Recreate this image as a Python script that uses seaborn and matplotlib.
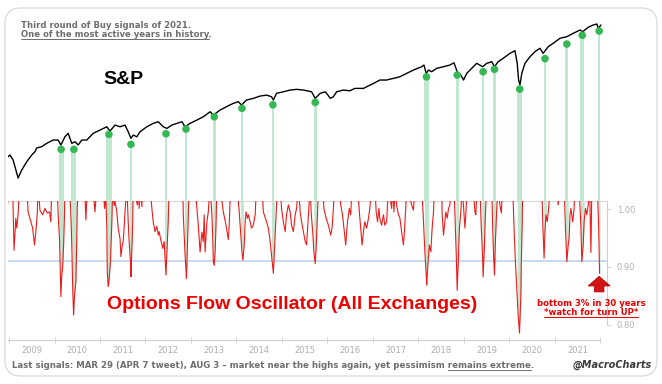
import matplotlib
matplotlib.use('Agg')
import numpy as np
import matplotlib.pyplot as plt
import seaborn as sns
from matplotlib.lines import Line2D
from matplotlib.patches import FancyBboxPatch
from matplotlib.transforms import IdentityTransform

# S&P 500 level (approx.), time in fractional years
spx_t = [2008.98, 2009.02, 2009.09, 2009.20, 2009.28, 2009.39, 2009.50, 2009.57, 2009.61, 2009.72,
         2009.83, 2009.97, 2010.08, 2010.14, 2010.23, 2010.30, 2010.38, 2010.45, 2010.52, 2010.60,
         2010.71, 2010.85, 2011.00, 2011.15, 2011.22, 2011.33, 2011.44, 2011.55, 2011.62, 2011.68,
         2011.73, 2011.81, 2011.88, 2012.03, 2012.17, 2012.28, 2012.39, 2012.47, 2012.58, 2012.69,
         2012.80, 2012.87, 2012.98, 2013.13, 2013.27, 2013.42, 2013.49, 2013.64, 2013.78, 2013.93,
         2014.04, 2014.11, 2014.22, 2014.37, 2014.52, 2014.66, 2014.77, 2014.81, 2014.88, 2015.03,
         2015.18, 2015.32, 2015.47, 2015.65, 2015.73, 2015.84, 2015.95, 2016.01, 2016.06, 2016.13,
         2016.20, 2016.35, 2016.49, 2016.60, 2016.79, 2016.86, 2017.01, 2017.15, 2017.30, 2017.45,
         2017.59, 2017.74, 2017.89, 2018.07, 2018.12, 2018.17, 2018.22, 2018.29, 2018.40, 2018.55,
         2018.69, 2018.78, 2018.85, 2018.93, 2018.99, 2019.06, 2019.17, 2019.28, 2019.41, 2019.50,
         2019.61, 2019.67, 2019.75, 2019.86, 2020.01, 2020.12, 2020.17, 2020.20, 2020.23, 2020.27,
         2020.34, 2020.45, 2020.56, 2020.67, 2020.74, 2020.85, 2020.96, 2021.11, 2021.26, 2021.40,
         2021.55, 2021.61, 2021.73, 2021.84, 2021.92, 2021.95, 2022.01]
spx_v = [877, 895, 843, 677, 746, 825, 895, 932, 975, 991,
         1032, 1074, 1074, 1011, 1118, 1165, 1032, 1052, 1011, 1074,
         1074, 1165, 1212, 1262, 1197, 1288, 1262, 1288, 1188, 1096,
         1141, 1118, 1188, 1262, 1315, 1341, 1262, 1237, 1288, 1315,
         1341, 1262, 1315, 1369, 1425, 1514, 1455, 1546, 1610, 1677,
         1711, 1643, 1746, 1782, 1832, 1854, 1817, 1746, 1894, 1930,
         1971, 1988, 1971, 1930, 1782, 1894, 1930, 1854, 1782, 1817,
         1930, 1971, 1954, 2011, 2011, 2051, 2136, 2226, 2226, 2272,
         2316, 2414, 2514, 2617, 2671, 2414, 2514, 2462, 2566, 2617,
         2671, 2746, 2462, 2365, 2226, 2414, 2566, 2727, 2617, 2727,
         2781, 2617, 2781, 2897, 3079, 3178, 2727, 2226, 2096, 2414,
         2727, 2953, 3144, 3274, 3079, 3337, 3478, 3697, 3770, 3926,
         4089, 4005, 4225, 4345, 4398, 4172, 4345]

# Options Flow Oscillator (values above ~1.014 run off the top of the panel)
osc_t = [2008.96, 2009.00, 2009.08, 2009.11, 2009.15, 2009.17, 2009.20, 2009.23, 2009.39, 2009.42,
         2009.48, 2009.52, 2009.56, 2009.59, 2009.62, 2009.64, 2009.68, 2009.74, 2009.79, 2009.84,
         2009.89, 2009.92, 2009.94, 2010.06, 2010.08, 2010.11, 2010.13, 2010.14, 2010.16, 2010.18,
         2010.20, 2010.22, 2010.23, 2010.33, 2010.36, 2010.38, 2010.40, 2010.42, 2010.44, 2010.47,
         2010.49, 2010.50, 2010.52, 2010.66, 2010.69, 2010.72, 2010.84, 2010.89, 2010.93, 2011.07,
         2011.10, 2011.13, 2011.15, 2011.16, 2011.18, 2011.20, 2011.23, 2011.26, 2011.28, 2011.31,
         2011.33, 2011.37, 2011.40, 2011.44, 2011.46, 2011.49, 2011.51, 2011.53, 2011.55, 2011.59,
         2011.62, 2011.64, 2011.67, 2011.68, 2011.70, 2011.72, 2011.73, 2011.82, 2011.84, 2011.86,
         2011.89, 2011.92, 2011.94, 2012.10, 2012.14, 2012.17, 2012.21, 2012.25, 2012.28, 2012.30,
         2012.33, 2012.38, 2012.41, 2012.43, 2012.45, 2012.47, 2012.50, 2012.52, 2012.82, 2012.83,
         2012.85, 2012.87, 2012.90, 2012.92, 2012.94, 2012.96, 2013.09, 2013.13, 2013.16, 2013.20,
         2013.24, 2013.27, 2013.29, 2013.31, 2013.35, 2013.38, 2013.42, 2013.46, 2013.48, 2013.49,
         2013.51, 2013.53, 2013.55, 2013.57, 2013.64, 2013.71, 2013.77, 2013.82, 2013.84, 2013.87,
         2014.01, 2014.06, 2014.09, 2014.12, 2014.14, 2014.17, 2014.19, 2014.21, 2014.24, 2014.26,
         2014.30, 2014.33, 2014.37, 2014.41, 2014.44, 2014.56, 2014.59, 2014.66, 2014.70, 2014.74,
         2014.77, 2014.81, 2014.84, 2014.87, 2014.90, 2014.96, 2014.99, 2015.03, 2015.07, 2015.10,
         2015.14, 2015.18, 2015.21, 2015.25, 2015.29, 2015.32, 2015.36, 2015.40, 2015.43, 2015.47,
         2015.51, 2015.54, 2015.58, 2015.62, 2015.64, 2015.68, 2015.70, 2015.73, 2015.75, 2015.78,
         2015.80, 2015.90, 2015.92, 2015.97, 2016.02, 2016.07, 2016.10, 2016.13, 2016.15, 2016.26,
         2016.29, 2016.33, 2016.37, 2016.40, 2016.44, 2016.48, 2016.51, 2016.54, 2016.66, 2016.70,
         2016.73, 2016.76, 2016.79, 2016.82, 2016.86, 2016.90, 2016.93, 2016.97, 2017.04, 2017.07,
         2017.10, 2017.13, 2017.15, 2017.19, 2017.23, 2017.26, 2017.30, 2017.34, 2017.41, 2017.44,
         2017.46, 2017.49, 2017.52, 2017.56, 2017.59, 2017.63, 2017.67, 2017.69, 2017.72, 2017.74,
         2017.85, 2017.89, 2017.92, 2018.07, 2018.11, 2018.14, 2018.17, 2018.18, 2018.21, 2018.24,
         2018.27, 2018.30, 2018.33, 2018.35, 2018.51, 2018.52, 2018.55, 2018.58, 2018.60, 2018.63,
         2018.66, 2018.69, 2018.72, 2018.78, 2018.81, 2018.83, 2018.85, 2018.88, 2018.90, 2018.93,
         2018.96, 2019.00, 2019.02, 2019.04, 2019.07, 2019.20, 2019.24, 2019.26, 2019.29, 2019.35,
         2019.38, 2019.41, 2019.42, 2019.45, 2019.47, 2019.50, 2019.61, 2019.63, 2019.65, 2019.67,
         2019.69, 2019.72, 2019.75, 2019.79, 2019.82, 2019.85, 2020.07, 2020.10, 2020.13, 2020.16,
         2020.19, 2020.22, 2020.25, 2020.26, 2020.28, 2020.29, 2020.71, 2020.73, 2020.76, 2020.78,
         2020.80, 2020.83, 2020.86, 2020.89, 2021.05, 2021.07, 2021.10, 2021.20, 2021.23, 2021.26,
         2021.29, 2021.31, 2021.33, 2021.35, 2021.39, 2021.42, 2021.44, 2021.53, 2021.57, 2021.59,
         2021.62, 2021.64, 2021.67, 2021.70, 2021.73, 2021.76, 2021.78, 2021.79, 2021.81, 2021.93,
         2021.96, 2021.98]
osc_v = [1.000, 1.04, 1.04, 0.929, 0.984, 0.967, 0.990, 1.04, 1.04, 0.995,
         0.978, 0.967, 0.938, 0.961, 0.990, 1.04, 0.998, 0.990, 1.001, 0.993,
         0.995, 0.978, 1.04, 1.04, 0.990, 0.949, 0.886, 0.849, 0.886, 0.901,
         0.938, 0.990, 1.04, 1.04, 0.990, 0.938, 0.863, 0.817, 0.852, 0.875,
         0.949, 1.001, 1.04, 1.04, 0.981, 1.04, 1.04, 0.995, 1.04, 1.04,
         1.001, 1.02, 0.967, 0.892, 0.866, 0.878, 0.909, 0.978, 1.04, 1.006,
         1.013, 0.995, 0.967, 0.949, 0.918, 0.938, 0.944, 0.967, 0.995, 1.04,
         0.978, 0.944, 0.909, 0.883, 0.932, 0.978, 1.04, 1.007, 1.04, 1.001,
         1.04, 1.004, 1.04, 1.04, 1.001, 0.978, 0.961, 0.970, 0.955, 0.961,
         0.949, 0.932, 0.944, 0.915, 0.886, 0.926, 0.978, 1.04, 1.04, 0.990,
         0.955, 0.921, 0.880, 0.932, 0.990, 1.04, 1.04, 1.001, 0.972, 0.926,
         0.960, 0.944, 0.990, 0.926, 0.978, 0.995, 1.04, 0.990, 0.944, 0.909,
         0.903, 0.926, 0.972, 1.04, 1.04, 0.995, 0.972, 0.947, 0.972, 1.04,
         1.04, 0.995, 0.961, 0.926, 0.912, 0.938, 0.978, 0.995, 0.984, 0.990,
         0.978, 0.967, 0.972, 0.990, 1.04, 1.04, 0.995, 0.978, 0.967, 0.944,
         0.921, 0.889, 0.938, 0.990, 1.04, 1.04, 1.001, 0.978, 0.961, 0.990,
         1.007, 0.995, 0.972, 0.961, 0.990, 1.001, 1.04, 0.995, 0.978, 0.961,
         0.944, 0.938, 0.990, 1.04, 0.995, 0.955, 0.926, 0.906, 0.932, 0.990,
         1.04, 1.04, 1.001, 0.984, 0.972, 0.955, 0.967, 1.001, 1.04, 1.04,
         1.007, 0.990, 0.961, 0.938, 0.978, 1.001, 0.990, 1.04, 1.04, 0.995,
         0.967, 0.938, 0.961, 0.978, 0.967, 0.984, 1.001, 1.04, 1.04, 0.995,
         0.978, 1.001, 0.984, 0.972, 0.990, 0.972, 0.978, 1.04, 1.001, 1.04,
         0.995, 1.04, 1.007, 0.990, 0.985, 0.960, 0.938, 0.961, 1.001, 1.04,
         1.007, 0.998, 1.04, 1.04, 0.978, 0.926, 0.886, 0.869, 0.909, 0.938,
         0.926, 0.967, 0.995, 1.04, 1.04, 0.990, 0.955, 0.978, 0.995, 0.984,
         1.001, 1.007, 1.04, 1.04, 0.967, 0.921, 0.860, 0.921, 0.967, 0.995,
         1.04, 0.990, 0.967, 0.990, 1.04, 1.04, 0.995, 0.990, 1.04, 1.04,
         0.967, 0.915, 0.883, 0.938, 0.990, 1.04, 1.04, 0.967, 0.921, 0.886,
         0.944, 1.001, 1.04, 1.007, 0.993, 1.04, 1.04, 0.967, 0.909, 0.863,
         0.817, 0.786, 0.852, 0.909, 0.978, 1.04, 1.04, 0.978, 0.915, 0.961,
         0.990, 0.978, 1.001, 1.04, 1.04, 1.007, 1.04, 1.04, 0.967, 0.909,
         0.938, 0.949, 0.990, 1.001, 0.978, 1.001, 1.04, 1.04, 0.967, 0.909,
         0.938, 0.978, 1.001, 0.990, 1.007, 1.04, 0.960, 0.925, 1.04, 1.04,
         0.967, 0.889]

# buy signals: window on the time axis and S&P level of the green dot
signal_start = [2010.09, 2010.37, 2011.13, 2011.65, 2012.42, 2012.86, 2013.48, 2014.09, 2014.77, 2015.70,
                2018.13, 2018.82, 2019.39, 2019.64, 2020.17, 2020.75, 2021.23, 2021.56, 2021.95]
signal_end = [2010.20, 2010.48, 2011.26, 2011.71, 2012.48, 2012.92, 2013.54, 2014.15, 2014.83, 2015.76,
              2018.22, 2018.88, 2019.45, 2019.70, 2020.28, 2020.81, 2021.29, 2021.64, 2021.99]
signal_level = [959, 959, 1151, 1019, 1159, 1227, 1425, 1578, 1648, 1697,
                2316, 2365, 2462, 2536, 1995, 2885, 3448, 3834, 4039]

years = list(range(2009, 2022))
osc_ticks = [0.80, 0.90, 1.00]
threshold = 0.91

W, H = 662, 384
GREEN = '#bfe8cf'
DOT = '#35b853'
RED = '#ee0000'
GREY = '#6e6e6e'

sns.set_style('white')
plt.rcParams['font.family'] = ['DejaVu Sans']

fig = plt.figure(figsize=(W / 100, H / 100), dpi=100)
ax_top = fig.add_axes([8 / W, 183 / H, 599 / W, 186 / H])
ax_osc = fig.add_axes([8 / W, 44 / H, 599 / W, 139 / H])
xlim = (2008.978, 2022.143)

# ---- S&P panel
ax_top.set_yscale('log')
for s, e, lvl in zip(signal_start, signal_end, signal_level):
    ax_top.fill_between([s, e], 512, lvl, color=GREEN, lw=0, zorder=1)
sns.lineplot(x=spx_t, y=spx_v, ax=ax_top, color='black', lw=1.0,
             estimator=None, sort=False, zorder=3)
mid = [(s + e) / 2 for s, e in zip(signal_start, signal_end)]
sns.scatterplot(x=mid, y=signal_level, ax=ax_top, color=DOT, s=30,
                edgecolor='none', zorder=4, clip_on=False)
ax_top.set_xlim(xlim)
ax_top.set_ylim(512, 4906)
ax_top.axis('off')

# ---- oscillator panel
ax_osc.axhline(threshold, color='#c6d9f0', lw=1.4, zorder=1)
for s, e in zip(signal_start, signal_end):
    tt = np.linspace(s, e, 40)
    vv = np.interp(tt, osc_t, osc_v)
    ax_osc.fill_between(tt, vv, 1.05, color=GREEN, lw=0, zorder=2)
sns.lineplot(x=osc_t, y=osc_v, ax=ax_osc, color='#ec1c1c', lw=0.8,
             estimator=None, sort=False, zorder=3)
ax_osc.set_xlim(xlim)
ax_osc.set_ylim(0.7741, 1.0138)
ax_osc.set_xlabel('')
ax_osc.set_ylabel('')

ax_osc.spines['left'].set_visible(False)
ax_osc.spines['top'].set_color('#dadada')
ax_osc.spines['top'].set_linewidth(0.8)
ax_osc.spines['right'].set_color('#cfcfcf')
ax_osc.spines['right'].set_linewidth(0.8)
ax_osc.spines['right'].set_bounds(0.80, 1.0138)
ax_osc.spines['bottom'].set_color('#cfcfcf')
ax_osc.spines['bottom'].set_linewidth(0.8)
ax_osc.spines['bottom'].set_bounds(xlim[0], 2022.0)

ax_osc.set_yticks(osc_ticks)
ax_osc.set_yticklabels([f'{v:.2f}' for v in osc_ticks])
ax_osc.tick_params(axis='y', left=False, labelleft=False, right=True, labelright=True,
                   length=3, width=0.6, color='#cfcfcf', labelcolor='#b0b0b0',
                   labelsize=6, pad=4)
ax_osc.set_xticks(years + [2022])
ax_osc.set_xticks([y + 0.5 for y in years], minor=True)
ax_osc.set_xticklabels([str(y) for y in years], minor=True)
ax_osc.tick_params(axis='x', which='major', bottom=True, labelbottom=False,
                   direction='inout', length=4, width=0.6, color='#cfcfcf')
ax_osc.tick_params(axis='x', which='minor', bottom=True, length=0,
                   labelsize=6, labelcolor='#adadad', pad=4)

ax_osc.text(0.475, 0.252, 'Options Flow Oscillator (All Exchanges)', transform=ax_osc.transAxes,
            ha='center', va='center', fontsize=14, fontweight='bold', color=RED,
            family='Liberation Sans')

ax_osc.annotate('', xy=(mid[-1], 0.884), xytext=(mid[-1], 0.857),
                arrowprops=dict(arrowstyle='simple,head_length=0.7,head_width=1.6,tail_width=0.7',
                                fc='#d41414', ec='#b00000', lw=0.5, mutation_scale=10,
                                shrinkA=0, shrinkB=0))

# ---- texts placed in figure pixels (y measured from the top, baseline)
renderer = fig.canvas.get_renderer()


def text_px(x, y, s, **kw):
    return fig.text(x / W, 1 - y / H, s, va='baseline', **kw)


def width_px(s, **kw):
    t = fig.text(0, 0, s, **kw)
    w = t.get_window_extent(renderer=renderer).width
    t.remove()
    return w


def underline(x0, x1, y, color):
    fig.add_artist(Line2D([x0, x1], [H - y, H - y], transform=IdentityTransform(),
                          color=color, lw=0.7))


hdr = dict(fontsize=6.15, fontweight='bold', color=GREY)
text_px(21, 28, 'Third round of Buy signals of 2021.', **hdr)
s2 = 'One of the most active years in history.'
text_px(21, 37, s2, **hdr)
underline(21, 21 + width_px(s2[:-1], **hdr), 38.5, GREY)

fig.text(123 / W, 1 - 79.5 / H, 'S&P', ha='center', va='center', fontsize=14,
         fontweight='bold', family='Liberation Sans', color='black')

ann = dict(fontsize=6.1, fontweight='bold', color=RED, ha='center')
text_px(591, 306, 'bottom 3% in 30 years', **ann)
t = text_px(591, 315, '*watch for turn UP*', **ann)
bb = t.get_window_extent(renderer=renderer)
underline(bb.x0, bb.x1, 316.5, RED)

foot_kw = dict(fontsize=6.25, fontweight='bold', color=GREY)
foot = 'Last signals: MAR 29 (APR 7 tweet), AUG 3 \u2013 market near the highs again, yet pessimism remains extreme.'
text_px(12, 368, foot, **foot_kw)
end = foot.index('extreme') + len('extreme')
x_end = 12 + width_px(foot[:end], **foot_kw)
underline(x_end - width_px('remains extreme', **foot_kw), x_end, 369.5, GREY)

text_px(652, 368, '@MacroCharts', fontsize=7, fontweight='bold', fontstyle='italic',
        color='#3a3a3a', ha='right')

# ---- card frame
fig.add_artist(FancyBboxPatch((5, 8), 652, 368, boxstyle='round,pad=0,rounding_size=16',
                              transform=IdentityTransform(), fill=False, ec='#dcdcdc', lw=1))

fig.savefig('out.png', dpi=100)
